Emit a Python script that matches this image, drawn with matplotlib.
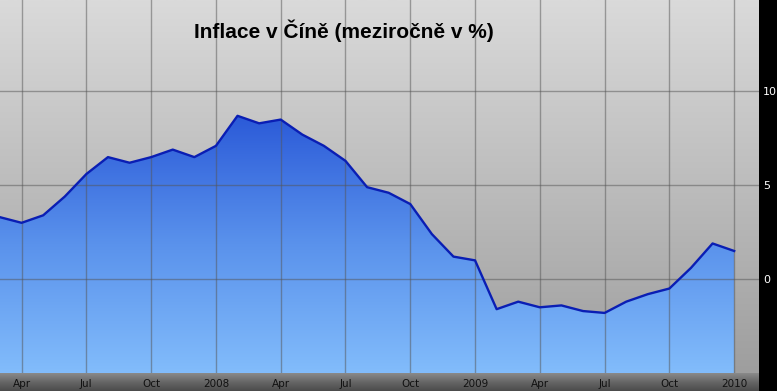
import numpy as np
import matplotlib
matplotlib.use("Agg")
import matplotlib.pyplot as plt
from matplotlib.colors import LinearSegmentedColormap

# mesicni inflace v Cine, brezen 2007 - leden 2010 (v %)
months = list(range(35))
inflation = [3.3, 3.0, 3.4, 4.4, 5.6, 6.5, 6.2, 6.5, 6.9, 6.5,
             7.1, 8.7, 8.3, 8.5, 7.7, 7.1, 6.3, 4.9, 4.6, 4.0,
             2.4, 1.2, 1.0, -1.6, -1.2, -1.5, -1.4, -1.7, -1.8, -1.2,
             -0.8, -0.5, 0.6, 1.9, 1.5]
tick_pos = [1, 4, 7, 10, 13, 16, 19, 22, 25, 28, 31, 34]
tick_labels = ["Apr", "Jul", "Oct", "2008", "Apr", "Jul", "Oct", "2009",
               "Apr", "Jul", "Oct", "2010"]
y_ticks = [0, 5, 10]

W, H = 777, 391
fig = plt.figure(figsize=(W / 100, H / 100), dpi=100, facecolor="black")

# spodni pruh s popisky
strip = fig.add_axes([0, 0, 759 / W, 18 / H], zorder=0)
strip_cmap = LinearSegmentedColormap.from_list("strip", ["#8a8a8a", "#666666", "#4c4c4c"])
strip.imshow(np.linspace(0, 1, 50).reshape(-1, 1), cmap=strip_cmap, aspect="auto",
             extent=(0, 1, 0, 1))
strip.set_axis_off()

ax = fig.add_axes([0, 18 / H, 759 / W, 373 / H], zorder=1)
xmin, xmax = 0, 35.15
ymin, ymax = -5.0, 14.87
ax.set_xlim(xmin, xmax)
ax.set_ylim(ymin, ymax)

# sede pozadi s prechodem
bg_cmap = LinearSegmentedColormap.from_list("bg", ["#9e9e9e", "#dadada"])
ax.imshow(np.linspace(0, 1, 256).reshape(-1, 1), cmap=bg_cmap, aspect="auto",
          origin="lower", extent=(xmin, xmax, ymin, ymax), zorder=0)

# modra plocha s prechodem
poly = ax.fill_between(months, inflation, ymin, color="none", lw=0, zorder=1)
fill_cmap = LinearSegmentedColormap.from_list("fill", ["#82bcfb", "#5a92ec", "#2b5ad8"])
top = max(inflation)
img = ax.imshow(np.linspace(0, 1, 256).reshape(-1, 1), cmap=fill_cmap, aspect="auto",
                origin="lower", extent=(months[0], months[-1], ymin, top), zorder=1)
img.set_clip_path(poly.get_paths()[0], transform=ax.transData)

# mrizka
for x in tick_pos:
    ax.axvline(x, color="#555555", alpha=0.5, lw=1, zorder=2)
for y in y_ticks:
    ax.axhline(y, color="#555555", alpha=0.5, lw=1, zorder=2)

ax.plot(months, inflation, color="#0a1eb4", lw=1.7, zorder=3, solid_joinstyle="round")

ax.set_xticks(tick_pos)
ax.set_xticklabels(tick_labels, fontsize=7.5, color="#111111")
ax.tick_params(axis="x", length=0, pad=4)
ax.yaxis.tick_right()
ax.set_yticks(y_ticks)
ax.set_yticklabels([str(v) for v in y_ticks], fontsize=8, color="white")
ax.tick_params(axis="y", length=0, pad=3)
for s in ax.spines.values():
    s.set_visible(False)

ax.text(344 / 759, 1 - 31 / 373, "Inflace v Číně (meziročně v %)", transform=ax.transAxes,
        ha="center", va="center", fontsize=15, fontweight="bold",
        family=["Liberation Sans", "DejaVu Sans"], color="black", zorder=5)

fig.savefig("out.png", dpi=100, facecolor="black")
